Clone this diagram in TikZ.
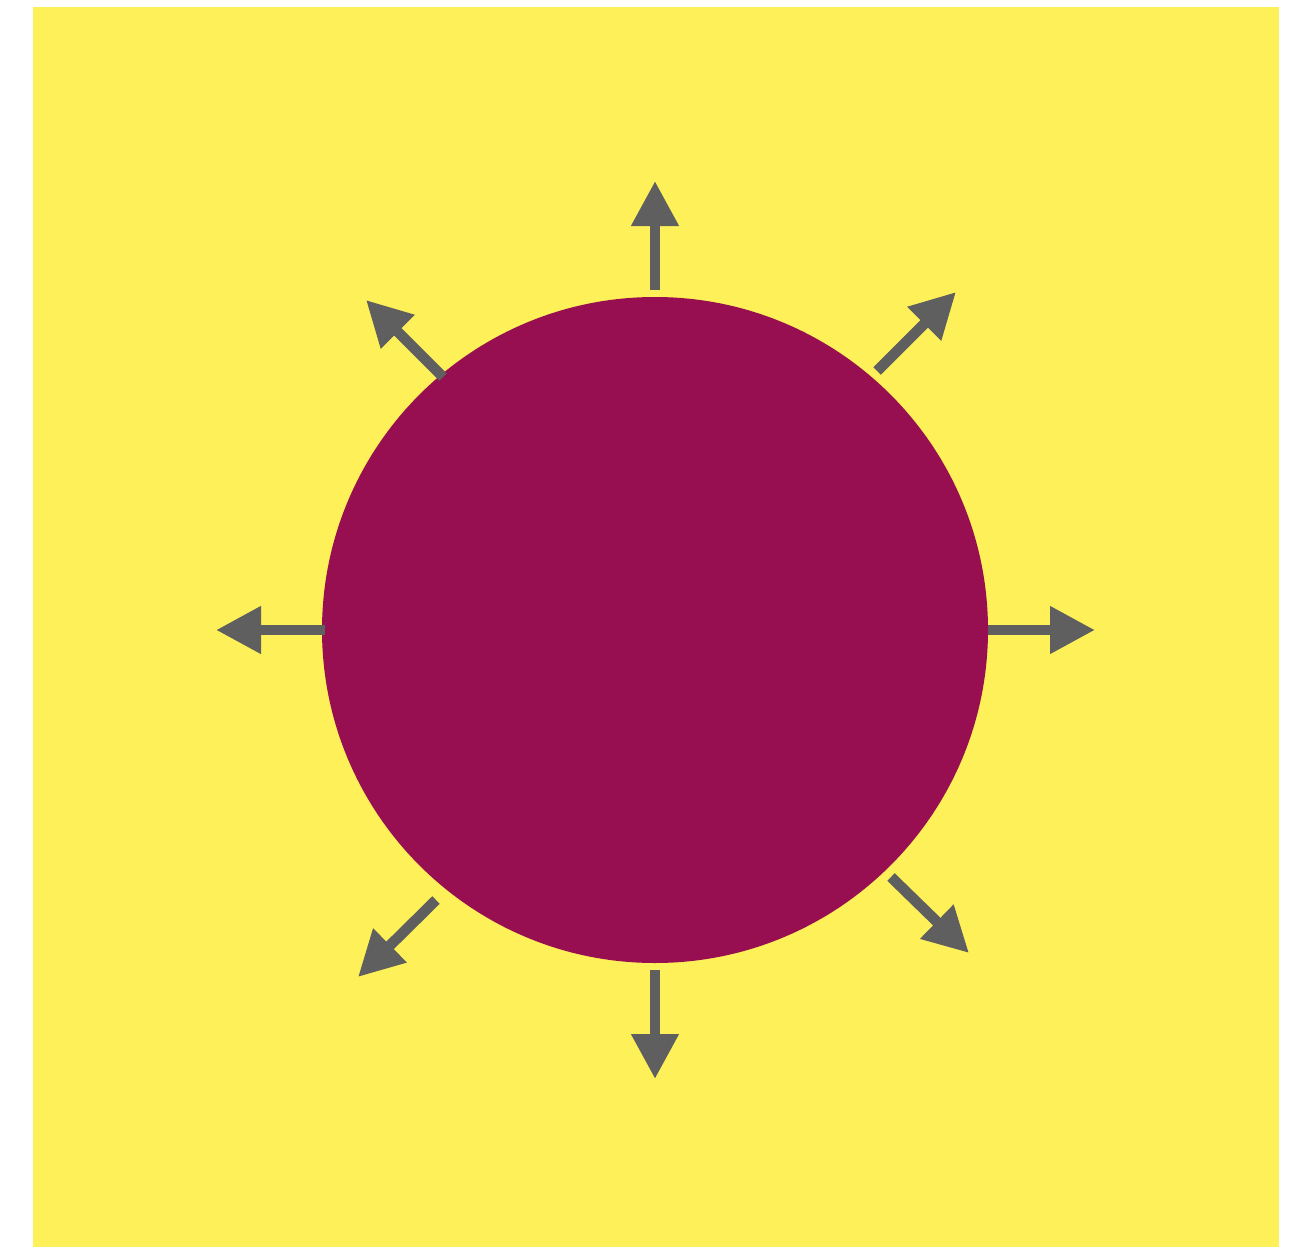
\documentclass[tikz,border=0pt]{standalone}
\usetikzlibrary{arrows.meta}
\definecolor{bgyellow}{HTML}{FEF058}
\definecolor{ballpurple}{HTML}{970F51}
\definecolor{arrowgray}{HTML}{5F5F5F}
\tikzset{
  ray/.style={draw=arrowgray, line width=5.3pt, -{Triangle[length=22.5pt,width=22.5pt]}},
}
\begin{document}
\begin{tikzpicture}[x=0.5pt,y=-0.5pt]
\useasboundingbox (0,0) rectangle (1312,1247);
\fill[white] (0,0) rectangle (1312,1247);
\fill[bgyellow] (33,7) rectangle (1279,1247);
\node[circle, fill=ballpurple, minimum size=333pt, inner sep=0pt] (c) at (655,630) {};
% start and end coordinates
\coordinate (nS) at (655,290);  \coordinate (nE) at (655,181);
\coordinate (sS) at (655,970);  \coordinate (sE) at (655,1079);
\coordinate (eS) at (988,630);  \coordinate (eE) at (1095,630);
\coordinate (wS) at (325,630);  \coordinate (wE) at (216,630);
\coordinate (neS) at (877,371); \coordinate (neE) at (956,292);
\coordinate (nwS) at (443,377); \coordinate (nwE) at (366,300);
\coordinate (swS) at (436,900); \coordinate (swE) at (358,977);
\coordinate (seS) at (891,877); \coordinate (seE) at (969,953);
\draw[ray] (nS) -- (nE);
\draw[ray] (sS) -- (sE);
\draw[ray] (eS) -- (eE);
\draw[ray] (wS) -- (wE);
\draw[ray] (neS) -- (neE);
\draw[ray] (nwS) -- (nwE);
\draw[ray] (swS) -- (swE);
\draw[ray] (seS) -- (seE);
\end{tikzpicture}
\end{document}
